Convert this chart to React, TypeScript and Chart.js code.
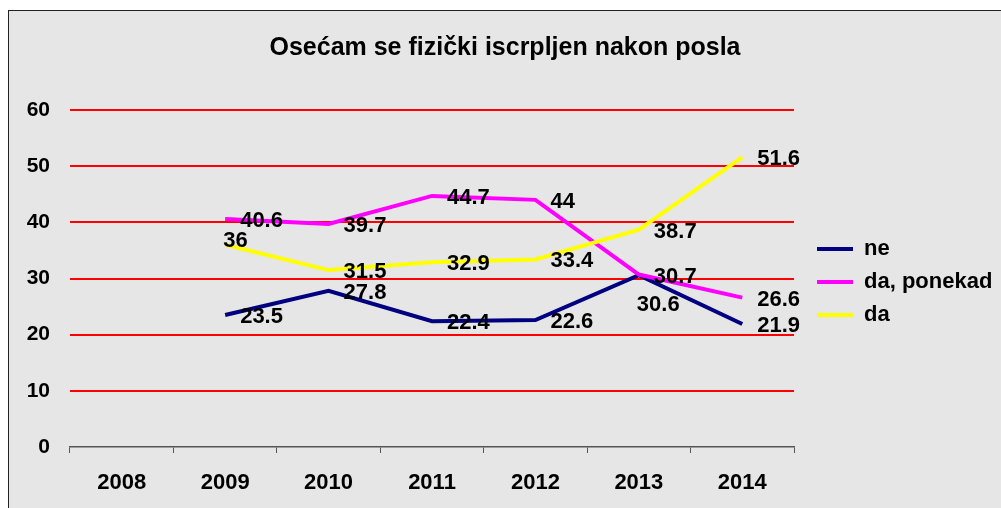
import React, { useEffect, useRef } from "react";
import { Chart, registerables } from "chart.js";

Chart.register(...registerables);

const FONT = "'Liberation Sans', Arial, Helvetica, sans-serif";

const title = "Osećam se fizički iscrpljen nakon posla";
const years = ["2008", "2009", "2010", "2011", "2012", "2013", "2014"];
const seriesNames = ["ne", "da, ponekad", "da"];
const ne = [null, 23.5, 27.8, 22.4, 22.6, 30.6, 21.9];
const daPonekad = [null, 40.6, 39.7, 44.7, 44, 30.7, 26.6];
const da = [null, 36, 31.5, 32.9, 33.4, 38.7, 51.6];
const seriesColors = ["#000080", "#ff00ff", "#ffff00"];
const yTicks = [0, 10, 20, 30, 40, 50, 60];

// label placement (style only): [dx, dy] from the point
const defaultOffset = [15, 2];
const labelOffsets: Record<number, Record<number, number[]>> = {
  0: { 5: [-2, 30] },
  1: {},
  2: { 1: [-2, -4] },
};

const valueLabels = {
  id: "valueLabels",
  afterDatasetsDraw(chart: any) {
    const ctx = chart.ctx;
    ctx.save();
    ctx.font = `bold 22px ${FONT}`;
    ctx.fillStyle = "#000";
    ctx.textAlign = "left";
    ctx.textBaseline = "middle";
    chart.data.datasets.forEach((ds: any, i: number) => {
      const meta = chart.getDatasetMeta(i);
      meta.data.forEach((el: any, j: number) => {
        const v = ds.data[j];
        if (v === null || v === undefined) return;
        const off = (labelOffsets[i] && labelOffsets[i][j]) || defaultOffset;
        ctx.fillText(String(v), el.x + off[0], el.y + off[1]);
      });
    });
    ctx.restore();
  },
};

export default function App() {
  const canvasRef = useRef<HTMLCanvasElement | null>(null);

  useEffect(() => {
    if (!canvasRef.current) return;
    const data = [ne, daPonekad, da];
    const chart = new Chart(canvasRef.current, {
      type: "line",
      data: {
        labels: years,
        datasets: data.map((d, i) => ({
          label: seriesNames[i],
          data: d,
          borderColor: seriesColors[i],
          backgroundColor: seriesColors[i],
          borderWidth: 4,
          pointRadius: 0,
          pointHoverRadius: 0,
          tension: 0,
          fill: false,
          order: data.length - i,
        })),
      },
      options: {
        animation: false,
        responsive: true,
        maintainAspectRatio: false,
        events: [],
        layout: { padding: { left: 0, right: 0, top: 0, bottom: 0 } },
        plugins: {
          tooltip: { enabled: false },
          title: {
            display: true,
            text: title,
            color: "#000",
            font: { family: FONT, size: 25, weight: "bold" },
            padding: { top: 22, bottom: 47 },
          },
          legend: {
            display: true,
            position: "right",
            fullSize: false,
            align: "center",
            maxWidth: 195,
            title: {
              display: true,
              text: " ",
              font: { family: FONT, size: 6 },
              padding: 0,
            },
            labels: {
              color: "#000",
              font: { family: FONT, size: 22, weight: "bold" },
              usePointStyle: true,
              pointStyle: "line",
              pointStyleWidth: 36,
              padding: 11,
              sort: (a: any, b: any) => a.datasetIndex - b.datasetIndex,
            },
          },
        },
        scales: {
          x: {
            type: "category",
            offset: true,
            grid: {
              offset: true,
              drawOnChartArea: false,
              drawTicks: true,
              tickLength: 6,
              color: "#555",
              lineWidth: 1,
            },
            border: { display: true, color: "#555", width: 1.5 },
            ticks: {
              color: "#000",
              font: { family: FONT, size: 22, weight: "bold" },
              padding: 17,
              maxRotation: 0,
              autoSkip: false,
            },
            afterFit: (s: any) => {
              s.height = 61;
            },
          },
          y: {
            min: 0,
            max: 60,
            afterBuildTicks: (s: any) => {
              s.ticks = yTicks.map((v) => ({ value: v }));
            },
            grid: {
              drawTicks: false,
              color: (c: any) => (c.tick && c.tick.value === 0 ? "rgba(0,0,0,0)" : "#ff0000"),
              lineWidth: 2,
            },
            border: { display: false },
            ticks: {
              color: "#000",
              font: { family: FONT, size: 21, weight: "bold" },
              padding: 20,
            },
            afterFit: (s: any) => {
              s.width = 61;
            },
          },
          gap: {
            position: "right",
            display: true,
            grid: { display: false, drawTicks: false },
            border: { display: false },
            ticks: { display: false },
            afterFit: (s: any) => {
              s.width = 12;
            },
          },
        },
      },
      plugins: [valueLabels],
    } as any);
    return () => chart.destroy();
  }, []);

  return (
    <div
      style={{
        position: "fixed",
        left: 8,
        top: 10,
        right: 0,
        bottom: 0,
        borderLeft: "1px solid #222",
        borderTop: "1px solid #222",
        background: "#e6e6e6",
      }}
    >
      <div style={{ position: "relative", width: "100%", height: "100%" }}>
        <canvas ref={canvasRef} />
      </div>
    </div>
  );
}
